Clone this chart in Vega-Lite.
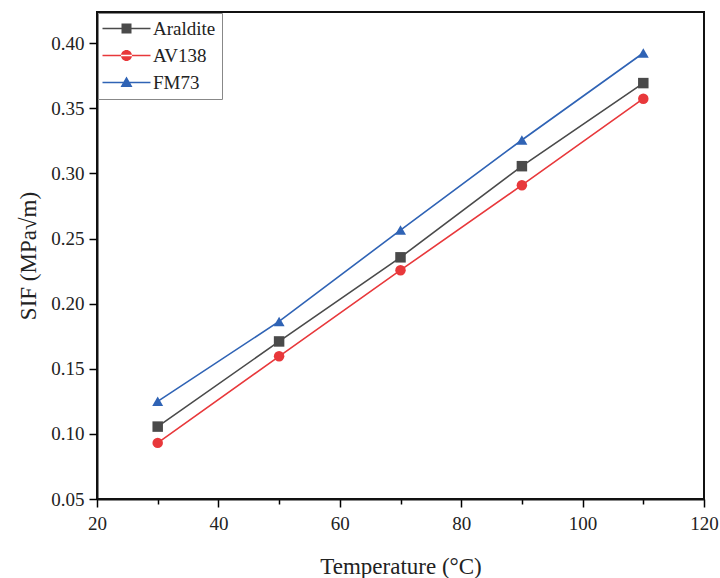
{
  "$schema": "https://vega.github.io/schema/vega-lite/v6.json",
  "width": 607,
  "height": 487,
  "autosize": {"type": "none"},
  "padding": {"left": 97, "top": 12, "right": 16, "bottom": 79},
  "background": "white",
  "config": {
    "view": {"stroke": "#111", "strokeWidth": 2},
    "font": "Liberation Serif",
    "axis": {"grid": false, "domainColor": "#111", "domainWidth": 2, "labelFont": "Liberation Serif", "titleFont": "Liberation Serif", "labelColor": "#222", "titleColor": "#222", "labelFontSize": 19, "titleFontSize": 23, "titleFontWeight": "normal", "labelFlush": false}
  },
  "data": {
    "values": [
      {"T": 30, "SIF": 0.1056, "Adhesive": "Araldite"},
      {"T": 50, "SIF": 0.171, "Adhesive": "Araldite"},
      {"T": 70, "SIF": 0.2356, "Adhesive": "Araldite"},
      {"T": 90, "SIF": 0.3056, "Adhesive": "Araldite"},
      {"T": 110, "SIF": 0.3694, "Adhesive": "Araldite"},
      {"T": 30, "SIF": 0.0931, "Adhesive": "AV138"},
      {"T": 50, "SIF": 0.1596, "Adhesive": "AV138"},
      {"T": 70, "SIF": 0.2257, "Adhesive": "AV138"},
      {"T": 90, "SIF": 0.291, "Adhesive": "AV138"},
      {"T": 110, "SIF": 0.3574, "Adhesive": "AV138"},
      {"T": 30, "SIF": 0.125, "Adhesive": "FM73"},
      {"T": 50, "SIF": 0.1864, "Adhesive": "FM73"},
      {"T": 70, "SIF": 0.2565, "Adhesive": "FM73"},
      {"T": 90, "SIF": 0.3257, "Adhesive": "FM73"},
      {"T": 110, "SIF": 0.3925, "Adhesive": "FM73"}
    ]
  },
  "layer": [
    {
      "mark": {"type": "line", "strokeWidth": 1.6},
      "encoding": {
        "x": {"field": "T", "type": "quantitative", "scale": {"domain": [20, 120], "nice": false, "zero": false},
          "axis": {"title": "Temperature (°C)", "tickCount": 10,
            "labelExpr": "datum.value % 20 === 0 ? datum.label : ''",
            "ticks": true, "tickColor": "black", "tickWidth": 1.5, "tickOpacity": 1,
            "tickSize": {"condition": {"test": "datum.value % 20 === 0", "value": 8}, "value": 5},
            "labelFont": "Liberation Serif", "labelFontSize": 19, "labelPadding": 7, "titlePadding": 22, "orient": "bottom"}},
        "y": {"field": "SIF", "type": "quantitative", "scale": {"domain": [0.05, 0.424], "nice": false, "zero": false},
          "axis": {"title": "SIF (MPa√m)", "values": [0.05, 0.075, 0.1, 0.125, 0.15, 0.175, 0.2, 0.225, 0.25, 0.275, 0.3, 0.325, 0.35, 0.375, 0.4],
            "format": ".2f",
            "labelExpr": "round(datum.value * 1000) % 50 === 0 ? datum.label : ''",
            "ticks": true, "tickColor": "black", "tickWidth": 1.5, "tickOpacity": 1,
            "tickSize": {"condition": {"test": "round(datum.value * 1000) % 50 === 0", "value": 8}, "value": 5},
            "labelFont": "Liberation Serif", "labelFontSize": 19, "labelPadding": 5, "titlePadding": 10, "orient": "left"}},
        "color": {"field": "Adhesive", "type": "nominal",
          "scale": {"domain": ["Araldite", "AV138", "FM73"], "range": ["#4a4a4a", "#e8383b", "#2f63b5"]},
          "legend": {
            "title": null, "orient": "none", "legendX": 1, "legendY": 1,
            "padding": 6, "strokeColor": "#888", "fillColor": "white",
            "labelFontSize": 19, "labelFont": "Liberation Serif", "labelColor": "#222",
            "symbolSize": 100, "symbolOffset": 13, "labelOffset": 17, "rowPadding": 7,
            "encode": {
              "symbols": {
                "update": {
                  "shape": {"signal": "datum.value === 'Araldite' ? 'M-4.8,-0.16H4.8V0.16H-4.8Z M-1,-1H1V1H-1Z' : datum.value === 'AV138' ? 'M-4.8,-0.16H4.8V0.16H-4.8Z M-1.1,0A1.1,1.1 0 1,0 1.1,0A1.1,1.1 0 1,0 -1.1,0Z' : 'M-4.8,-0.16H4.8V0.16H-4.8Z M0,-1.2L1.2,0.9H-1.2Z'"},
                  "fill": {"scale": "color", "field": "value"},
                  "stroke": {"value": "transparent"},
                  "strokeWidth": {"value": 0},
                  "opacity": {"value": 1},
                  "fillOpacity": {"value": 1}
                }
              }
            }
          }}
      }
    },
    {
      "transform": [{"filter": "datum.Adhesive === 'Araldite'"}],
      "mark": {"type": "point", "filled": true, "opacity": 1, "size": 110, "shape": "square"},
      "encoding": {
        "x": {"field": "T", "type": "quantitative"},
        "y": {"field": "SIF", "type": "quantitative"},
        "color": {"field": "Adhesive", "type": "nominal"}
      }
    },
    {
      "transform": [{"filter": "datum.Adhesive === 'AV138'"}],
      "mark": {"type": "point", "filled": true, "opacity": 1, "size": 110, "shape": "circle"},
      "encoding": {
        "x": {"field": "T", "type": "quantitative"},
        "y": {"field": "SIF", "type": "quantitative"},
        "color": {"field": "Adhesive", "type": "nominal"}
      }
    },
    {
      "transform": [{"filter": "datum.Adhesive === 'FM73'"}],
      "mark": {"type": "point", "filled": true, "opacity": 1, "size": 120, "shape": "triangle-up"},
      "encoding": {
        "x": {"field": "T", "type": "quantitative"},
        "y": {"field": "SIF", "type": "quantitative"},
        "color": {"field": "Adhesive", "type": "nominal"}
      }
    }
  ]
}
